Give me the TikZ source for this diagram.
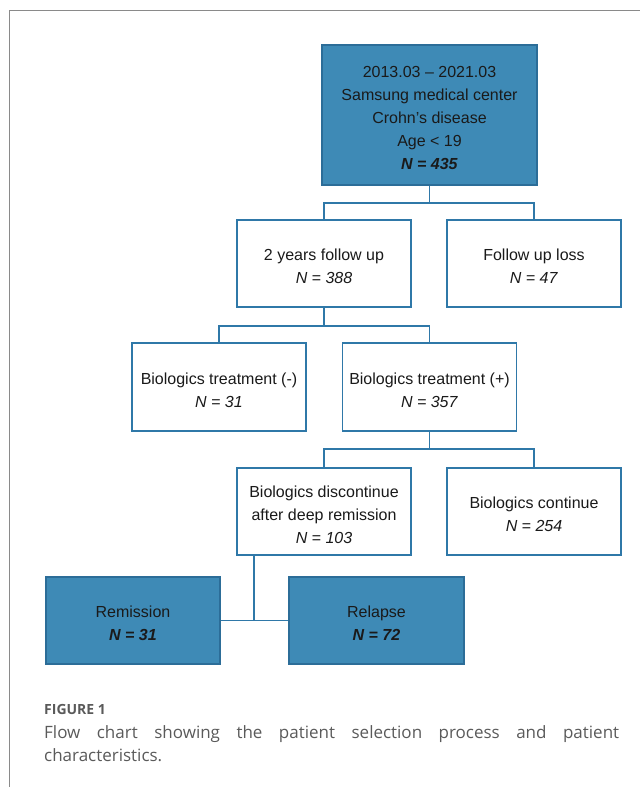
\documentclass[tikz,border=0pt]{standalone}
\usepackage{fontspec}
\setmainfont{Liberation Sans}
\newfontfamily\capfont{Open Sans}
\definecolor{boxfill}{HTML}{3E8AB6}
\definecolor{boxdark}{HTML}{2C6D98}
\definecolor{lineblue}{HTML}{2F78A8}
\definecolor{txt}{HTML}{1A1A1A}
\definecolor{capgray}{HTML}{5A5A5A}
\definecolor{framegray}{HTML}{8A8A8A}
\newcommand\topstrut{\rule{0pt}{17.6pt}}
\tikzset{
  basebox/.style={rectangle, inner sep=0pt, align=center, text=txt,
    font=\fontsize{16}{23}\selectfont, line width=1.3pt},
  whitebox/.style={basebox, draw=lineblue, fill=white},
  bluebox/.style={basebox, draw=boxdark, fill=boxfill},
  conn/.style={draw=lineblue, line width=1.3pt},
}
\begin{document}
\begin{tikzpicture}[x=1pt,y=-1pt]
\useasboundingbox (0,0) rectangle (640,787);
\draw[framegray, line width=1pt] (9.5,787) -- (9.5,10.5) -- (640,10.5);

\node[bluebox, minimum width=215pt, minimum height=140pt] (top) at (429.5,115)
  {\topstrut 2013.03 -- 2021.03\\Samsung medical center\\Crohn’s disease\\Age < 19\\\textbf{\textit{N = 435}}};
\node[whitebox, minimum width=174pt, minimum height=87pt] (years) at (324,263.5)
  {\topstrut 2 years follow up\\\textit{N = 388}};
\node[whitebox, minimum width=174pt, minimum height=87pt] (loss) at (534,263.5)
  {\topstrut Follow up loss\\\textit{N = 47}};
\node[whitebox, minimum width=174pt, minimum height=88pt] (bneg) at (219,387)
  {\topstrut Biologics treatment (-)\\\textit{N = 31}};
\node[whitebox, minimum width=174pt, minimum height=88pt] (bpos) at (429.5,387)
  {\topstrut Biologics treatment (+)\\\textit{N = 357}};
\node[whitebox, minimum width=174pt, minimum height=87pt] (disc) at (324,511.5)
  {\topstrut Biologics discontinue\\after deep remission\\\textit{N = 103}};
\node[whitebox, minimum width=174pt, minimum height=87pt] (cont) at (534,511.5)
  {\topstrut Biologics continue\\\textit{N = 254}};
\node[bluebox, minimum width=174pt, minimum height=87pt] (rem) at (133,620.5)
  {\topstrut Remission\\\textbf{\textit{N = 31}}};
\node[bluebox, minimum width=175pt, minimum height=87pt] (rel) at (376.5,620.5)
  {\topstrut Relapse\\\textbf{\textit{N = 72}}};

\coordinate (j1) at (429.5,203);
\coordinate (j2) at (324,326);
\coordinate (j3) at (429.5,449);
\coordinate (j4) at (254,620.5);

\draw[conn] (top.south) -- (j1);
\draw[conn] (years.north) |- (j1) -| (loss.north);
\draw[conn] (years.south) -- (j2);
\draw[conn] (bneg.north) |- (j2) -| (bpos.north);
\draw[conn] (bpos.south) -- (j3);
\draw[conn] (disc.north) |- (j3) -| (cont.north);
\draw[conn] (j4 |- disc.south) -- (j4);
\draw[conn] (rem.east) -- (rel.west);

\node[anchor=base west, inner sep=0pt, text=capgray, font=\capfont\fontsize{14}{16}\selectfont\bfseries] (fig) at (44,714) {FIGURE 1};
\node[anchor=base west, inner sep=0pt, text=capgray, font=\capfont\fontsize{17}{23}\selectfont] (cap1) at (44,738)
  {\makebox[575pt][s]{Flow chart showing the patient selection process and patient}};
\node[anchor=base west, inner sep=0pt, text=capgray, font=\capfont\fontsize{17}{23}\selectfont] (cap2) at (44,761)
  {characteristics.};
\end{tikzpicture}
\end{document}
